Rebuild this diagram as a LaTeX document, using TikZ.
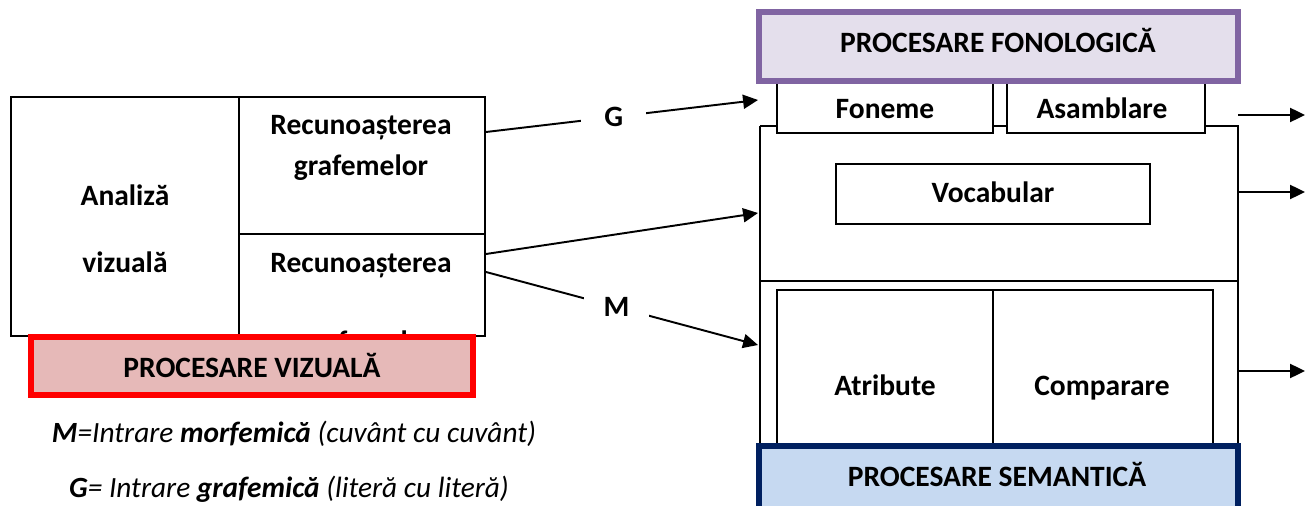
\documentclass[tikz,border=0pt]{standalone}
\usepackage{fontspec}
\setmainfont{Carlito}
\usetikzlibrary{arrows.meta}

\definecolor{vizred}{HTML}{FF0000}
\definecolor{vizfill}{HTML}{E6B9B8}
\definecolor{fonviolet}{HTML}{8064A2}
\definecolor{fonfill}{HTML}{E4DFEC}
\definecolor{semnavy}{HTML}{002060}
\definecolor{semfill}{HTML}{C6D9F1}

\tikzset{
  lbl/.style={font=\bfseries\fontsize{16.8}{20}\selectfont, anchor=base, inner sep=0pt},
  note/.style={font=\itshape\fontsize{16.7}{20}\selectfont, anchor=base, inner sep=0pt},
  box/.style={draw, line width=1.1pt},
  arr/.style={line width=1.1pt, -{Triangle[length=8.5pt,width=8pt]}},
  gap/.style={lbl, anchor=center, fill=white, minimum width=37pt, minimum height=14pt},
}

\begin{document}
\begin{tikzpicture}[x=0.02cm,y=-0.02cm]
    \useasboundingbox (0,0) rectangle (1314,506);

    % visual side
    \draw[box] (11,97) rectangle (485,336);
    \draw[box] (239,97) -- (239,336);
    \draw[box] (239,234) -- (485,234);
    \node[lbl] (analiza) at (125,206) {Analiză};
    \node[lbl] (vizuala) at (125,273) {vizuală};
    \node[lbl] (recg) at (361,135) {Recunoașterea};
    \node[lbl] (graf) at (361,176) {grafemelor};
    \node[lbl] (recm) at (361,273) {Recunoașterea};
    \begin{scope}
      \clip (240,235) rectangle (484,333);
      \node[lbl] (morf) at (361,351) {morfemelor};
    \end{scope}

    \draw[line width=3.4pt, draw=vizred, fill=vizfill] (31,337) rectangle (473,395);
    \node[lbl] (procviz) at (252,377) {PROCESARE VIZUALĂ};

    \node[note] (mnote) at (294,442) {\textbf{M}=Intrare \textbf{morfemică} (cuvânt cu cuvânt)};
    \node[note] (gnote) at (289,497) {\textbf{G}= Intrare \textbf{grafemică} (literă cu literă)};

    % phonological / semantic side
    \draw[box] (777,81) rectangle (993,133);
    \draw[box] (1007,81) rectangle (1205,133);
    \node[lbl] (foneme) at (885,119) {Foneme};
    \node[lbl] (asamb) at (1102,119) {Asamblare};

    \draw[box] (760,126) -- (777,126);
    \draw[box] (993,126) -- (1007,126);
    \draw[box] (1205,126) -- (1238,126) -- (1238,281) -- (760,281) -- (760,126);
    \draw[box] (836,164) rectangle (1150,224);
    \node[lbl] (vocab) at (993,203) {Vocabular};

    \draw[box] (760,281) rectangle (1238,450);
    \draw[box] (777,290) rectangle (1213,450);
    \draw[box] (993,290) -- (993,450);
    \node[lbl] (atrib) at (885,395) {Atribute};
    \node[lbl] (compar) at (1102,395) {Comparare};

    \draw[line width=3.4pt, draw=fonviolet, fill=fonfill] (759,12) rectangle (1238,81);
    \node[lbl] (procfon) at (998,53) {PROCESARE FONOLOGICĂ};

    \draw[line width=3.4pt, draw=semnavy, fill=semfill] (759,446) rectangle (1238,520);
    \node[lbl] (procsem) at (997,486) {PROCESARE SEMANTICĂ};

    % routes
    \coordinate (gs) at (486,132);
    \coordinate (gt) at (758,100);
    \coordinate (vs) at (486,254);
    \coordinate (vt) at (758,213);
    \coordinate (ms) at (486,272);
    \coordinate (mt) at (758,345);
    \draw[arr] (gs) -- node[gap, pos=0.47] (glabel) {G} (gt);
    \draw[arr] (vs) -- (vt);
    \draw[arr] (ms) -- node[gap, pos=0.48] (mlabel) {M} (mt);

    \coordinate (out1) at (1238,115);
    \coordinate (out2) at (1238,192);
    \coordinate (out3) at (1238,371);
    \draw[arr] (out1) -- (1305,115);
    \draw[arr] (out2) -- (1305,192);
    \draw[arr] (out3) -- (1305,371);
\end{tikzpicture}
\end{document}
